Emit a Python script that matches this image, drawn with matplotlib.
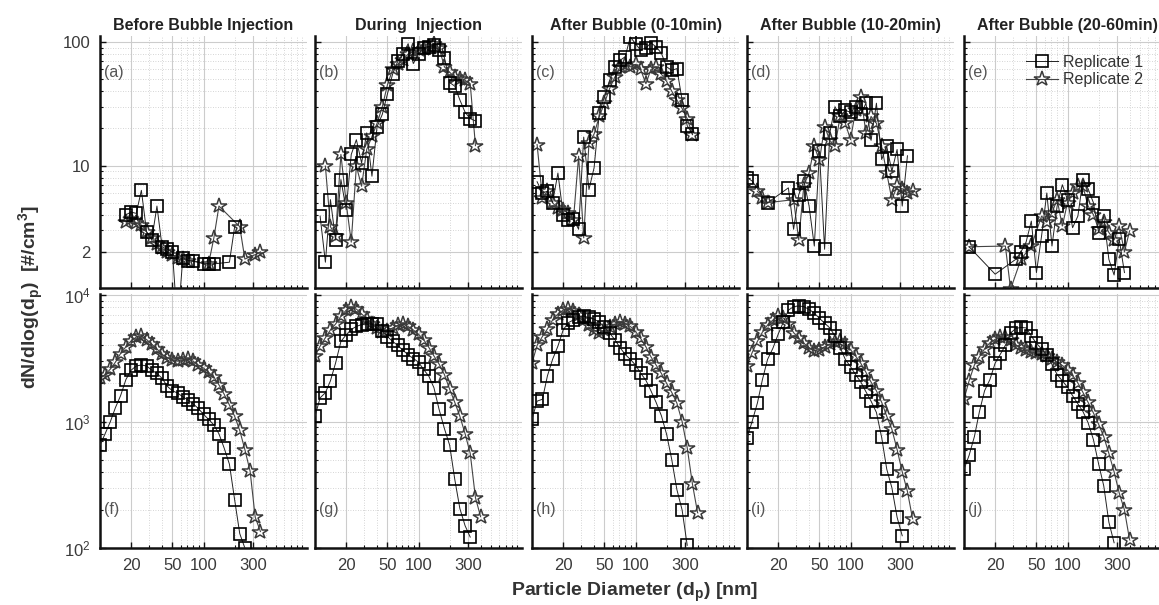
import numpy as np
import matplotlib
matplotlib.use("Agg")
import matplotlib.pyplot as plt
from matplotlib.ticker import FixedLocator, FixedFormatter, LogLocator, NullFormatter

N = np.nan

# Particle diameters (nm) of the size bins
diam = [10.0, 11.2, 12.6, 14.1, 15.8, 17.8, 20.0, 22.4, 25.1, 28.2, 31.6, 35.5, 39.8,
        44.7, 50.1, 56.2, 63.1, 70.8, 79.4, 89.1, 100, 112, 126, 141, 158, 178, 200,
        224, 251, 282, 316, 355, 398]

titles = ["Before Bubble Injection", "During  Injection", "After Bubble (0-10min)",
          "After Bubble (10-20min)", "After Bubble (20-60min)"]
labels_top = ["(a)", "(b)", "(c)", "(d)", "(e)"]
labels_bot = ["(f)", "(g)", "(h)", "(i)", "(j)"]
series_names = ["Replicate 1", "Replicate 2"]

# ---- top row (dN/dlog dp, #/cm3) ----
a_rep1 = [N, N, N, N, N, 4.0, 4.2, 4.1, 6.3, 2.9, 2.5, 4.7, 2.2, 2.1, 2.0, 0.5, 1.8, 1.7, 1.7, N,
          1.6, 1.6, 1.6, N, N, 1.65, 3.2, N, N, N, N, N, N]
a_rep2 = [N, N, N, N, N, 3.5, 3.7, 3.4, 3.3, 2.9, 2.6, 2.3, 2.15, 2.0, 1.9, 1.8, 1.75, 1.7, N, N,
          N, 1.6, 2.6, 4.7, N, N, N, 3.2, 1.75, N, 1.9, 2.0, N]
b_rep1 = [N, 3.9, 1.65, 5.3, 2.5, 7.7, 4.4, 12.3, 16.2, 10.5, 18.4, 8.2, 20.7, 26, 38, 55, 70, 80,
          97, 67, 80, 90, 92, 94, 86, 75, 47, 44, 34, 27, 24, 23, N]
b_rep2 = [N, N, 9.9, 3.2, 2.7, 12.3, 5.0, 2.4, 9.9, 6.8, 13.5, 17.2, 22, 30, 45, 60, 66, 72, 80,
          84, 86, 88, 92, 97, 90, 63, 57, 52, 50, 49, 46, 14.5, N]
c_rep1 = [N, 7.4, 6.0, 6.2, 5.0, 8.7, 4.0, 3.6, 3.7, 3.05, 17, 6.4, 9.6, 26.6, 36, 49, 63, 71, 76,
          110, 97, 86, 90, 98, 92, 81, 63, 59, 61, 34, 21, 18, N]
c_rep2 = [N, 14.8, 5.5, 6.2, 5.0, 4.5, 4.4, 4.15, 3.6, 11.9, 2.6, 15.2, 18, 25, 32, 42, 52, 63, 65,
          63, 66, 60, 46, 60, 63, 55, 48, 40, 34, 29, 24, 17.8, N]
d_rep1 = [8.0, 7.5, N, N, 5.0, N, N, N, 6.6, 3.05, 5.8, 7.5, 4.7, 2.23, 13, 2.1, 18.4, 30, 25, 28,
          27, 30, 26, 32, 16, 32, 11.2, 14.3, 9, 13.5, 4.7, 12, N]
d_rep2 = [N, N, 6.2, 5.5, 5.0, N, N, N, N, 5.3, 2.5, 7.0, 8.7, 14.3, 11, 20.7, 16, 14.3, 25, 22,
          16.2, 28, 36, 18.4, 25, 22, 14.3, 8.7, 5.3, 6.8, 6.5, 6.0, 6.2]
e_rep1 = [N, 2.2, N, N, N, N, 1.32, N, N, N, 1.74, 2.0, 2.4, 3.55, 1.36, 2.7, 6.0, 2.23, 4.7, 7.0,
          5.3, 3.14, 3.9, 7.7, 6.5, 5.0, 2.87, 3.9, 1.74, 1.3, 2.53, 1.36, N]
e_rep2 = [N, 2.2, N, N, N, N, N, N, 2.23, 1.0, N, 1.74, N, 2.23, N, 3.9, 3.5, 4.15, 5.3, 3.24,
          5.0, 6.0, 6.8, 6.8, 4.7, 4.0, 3.05, 3.5, 2.87, 2.5, 3.24, 2.0, 2.96]

# ---- bottom row ----
f_rep1 = [650, 800, 1000, 1290, 1600, 2150, 2550, 2750, 2800, 2750, 2550, 2400, 2200, 1900, 1750,
          1680, 1570, 1480, 1380, 1270, 1140, 1040, 940, 800, 620, 460, 240, 130, 100, N, N, N, N]
f_rep2 = [2200, 2350, 2600, 2950, 3450, 3900, 4350, 4650, 4750, 4450, 4100, 3750, 3400, 3200, 3050,
          3000, 3050, 3100, 3000, 2800, 2650, 2450, 2250, 1950, 1650, 1350, 1100, 850, 600, 405,
          175, 135, N]
g_rep1 = [1100, 1540, 1690, 2100, 2900, 4300, 4850, 5350, 5650, 5850, 5900, 5900, 5900, 5200, 4700,
          4300, 4000, 3650, 3380, 3150, 2950, 2580, 2280, 1850, 1250, 880, 650, 350, 205, 150, 122,
          N, N]
g_rep2 = [3300, 3950, 4600, 5300, 5900, 6800, 7600, 8000, 7750, 7100, 6500, 5900, 5500, 5100, 5200,
          5500, 5750, 5880, 5650, 5300, 4900, 4450, 3850, 3300, 2850, 2350, 1800, 1420, 1100, 800,
          560, 250, 177]
h_rep1 = [1040, 1450, 1500, 2300, 3100, 3950, 5300, 6050, 6350, 6700, 6800, 6650, 6450, 6100, 5600,
          5000, 4450, 3850, 3400, 3100, 2800, 2420, 2120, 1750, 1420, 1110, 790, 500, 290, 200, 105,
          N, N]
h_rep2 = [2900, 4000, 4700, 5400, 6350, 7100, 7600, 7700, 7500, 7000, 6400, 5800, 5300, 5050, 5250,
          5550, 5900, 6080, 5950, 5650, 5150, 4550, 3900, 3250, 2800, 2400, 2000, 1700, 1400, 1000,
          620, 320, 190]
i_rep1 = [740, 1000, 1400, 2150, 3100, 3800, 4900, 6100, 7600, 8100, 8200, 8100, 7700, 7200, 6550,
          6000, 5500, 4750, 3850, 3100, 2720, 2350, 2050, 1720, 1450, 1180, 750, 420, 300, 175, 125,
          N, N]
i_rep2 = [2750, 3500, 4300, 5100, 5800, 6350, 6800, 6600, 5900, 5050, 4550, 4150, 3850, 3620, 3700,
          3900, 4100, 4250, 4350, 4100, 3700, 3300, 2880, 2450, 2050, 1750, 1420, 1100, 870, 600,
          400, 280, 170]
j_rep1 = [420, 540, 760, 1200, 1750, 2150, 2900, 3400, 4000, 5000, 5450, 5550, 5500, 4750, 4150,
          3750, 3330, 2830, 2350, 2100, 1870, 1600, 1380, 1200, 980, 720, 460, 310, 160, 110, N, N, N]
j_rep2 = [1500, 2100, 2800, 3250, 3750, 4200, 4470, 4650, 4700, 4450, 4050, 3800, 3650, 3530, 3480,
          3420, 3300, 3130, 2950, 2780, 2550, 2320, 2020, 1700, 1420, 1170, 950, 760, 560, 400, 272,
          200, 116]

top_data = [(a_rep1, a_rep2), (b_rep1, b_rep2), (c_rep1, c_rep2), (d_rep1, d_rep2), (e_rep1, e_rep2)]
bot_data = [(f_rep1, f_rep2), (g_rep1, g_rep2), (h_rep1, h_rep2), (i_rep1, i_rep2), (j_rep1, j_rep2)]

plt.rcParams['font.family'] = ['Liberation Sans', 'DejaVu Sans']
plt.rcParams['mathtext.fontset'] = 'custom'
plt.rcParams['mathtext.rm'] = 'Liberation Sans'
plt.rcParams['mathtext.bf'] = 'Liberation Sans:bold'

FW, FH = 1159, 605
fig = plt.figure(figsize=(FW / 100, FH / 100), dpi=100)
fig.patch.set_facecolor('white')

lefts = [100, 315, 532, 747, 964]
W = 207
rows = [(36, 288), (294, 548)]

d = np.array(diam, dtype=float)


def style(ax, row, col):
    ax.set_xscale('log')
    ax.set_yscale('log')
    ax.set_xlim(10, 1000)
    for s in ['top', 'right']:
        ax.spines[s].set_visible(False)
    for s in ['left', 'bottom']:
        ax.spines[s].set_linewidth(1.8)
        ax.spines[s].set_color('#111111')
    ax.xaxis.set_major_locator(FixedLocator([20, 50, 100, 300]))
    ax.xaxis.set_major_formatter(FixedFormatter(['20', '50', '100', '300']))
    ax.xaxis.set_minor_locator(LogLocator(base=10, subs=np.arange(2, 10) * 1.0, numticks=20))
    ax.xaxis.set_minor_formatter(NullFormatter())
    if row == 0:
        ax.set_ylim(1.02, 112)
        ax.yaxis.set_major_locator(FixedLocator([2, 10, 100]))
        ax.yaxis.set_major_formatter(FixedFormatter(['2', '10', '100']))
    else:
        ax.set_ylim(100, 10200)
        ax.yaxis.set_major_locator(FixedLocator([100, 1000, 10000]))
        ax.yaxis.set_major_formatter(FixedFormatter([r'$\mathdefault{10^{2}}$',
                                                     r'$\mathdefault{10^{3}}$',
                                                     r'$\mathdefault{10^{4}}$']))
    ax.yaxis.set_minor_locator(LogLocator(base=10, subs=np.arange(2, 10) * 1.0, numticks=20))
    ax.yaxis.set_minor_formatter(NullFormatter())
    ax.set_axisbelow(True)
    ax.grid(True, which='major', color='#cccccc', lw=0.8, ls='-')
    ax.grid(True, which='minor', color='#c8c8c8', lw=0.6, ls=(0, (1, 2)))
    ax.tick_params(which='both', direction='in', top=False, right=False,
                   labelsize=12, labelcolor='#3a3a3a', color='#111111')
    ax.tick_params(which='major', length=4, width=1.0, pad=7)
    ax.tick_params(which='minor', length=2, width=0.8)
    if row == 0:
        ax.tick_params(labelbottom=False)
    if col > 0:
        ax.tick_params(labelleft=False)


def draw(ax, r1, r2):
    v1 = np.array(r1, dtype=float)
    v2 = np.array(r2, dtype=float)
    m1 = ~np.isnan(v1)
    m2 = ~np.isnan(v2)
    l2, = ax.plot(d[m2], v2[m2], '-', color='#444444', lw=0.8, marker='*', ms=11.5,
                  mfc='none', mec='#3a3a3a', mew=1.1, zorder=2, label=series_names[1])
    l1, = ax.plot(d[m1], v1[m1], '-', color='#222222', lw=0.7, marker='s', ms=8.8,
                  mfc='none', mec='black', mew=1.2, zorder=3, label=series_names[0])
    return l1, l2


axes_top = []
for r, (ytop, ybot) in enumerate(rows):
    for c in range(5):
        ax = fig.add_axes([lefts[c] / FW, 1 - ybot / FH, W / FW, (ybot - ytop) / FH])
        style(ax, r, c)
        if r == 0:
            l1, l2 = draw(ax, *top_data[c])
            ax.set_title(titles[c], fontsize=11.5, fontweight='bold', color='#222222', pad=4)
            ax.text(0.02, 0.855, labels_top[c], transform=ax.transAxes, fontsize=11.5,
                    color='#555555', va='center', ha='left')
            axes_top.append((ax, l1, l2))
        else:
            draw(ax, *bot_data[c])
            ax.text(0.02, 0.15, labels_bot[c], transform=ax.transAxes, fontsize=11.5,
                    color='#555555', va='center', ha='left')

ax_e, l1, l2 = axes_top[4]
leg = ax_e.legend(handles=[l1, l2], loc='upper left', bbox_to_anchor=(0.27, 0.95),
                  frameon=False, fontsize=11.5, handlelength=2.0, labelspacing=0.15,
                  handletextpad=0.3, borderaxespad=0)
for t in leg.get_texts():
    t.set_color('#333333')

fig.text(31 / FW, 1 - 297 / FH, r'dN/dlog(d$_\mathbf{p}$)  [#/cm$^\mathbf{3}$]',
         rotation=90, fontsize=14, fontweight='bold', color='#333333',
         ha='center', va='center')
fig.text(635 / FW, 1.5 / FH, r'Particle Diameter (d$_\mathbf{p}$) [nm]',
         fontsize=14, fontweight='bold', color='#333333', ha='center', va='bottom')

fig.savefig('out.png', dpi=100, facecolor='white')
